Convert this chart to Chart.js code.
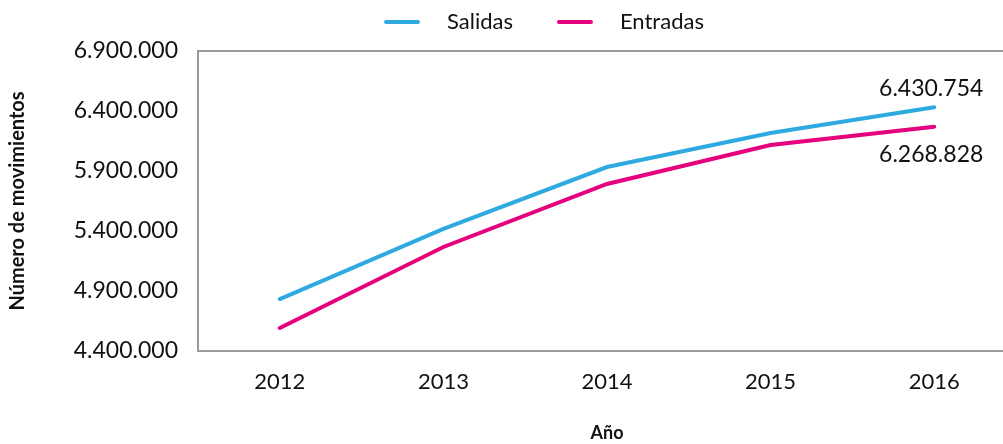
<!DOCTYPE html>
<html>
<head>
<meta charset="utf-8">
<script src="https://cdn.jsdelivr.net/npm/chart.js@4"></script>
<style>
  html, body { margin: 0; padding: 0; background: #fff; overflow: hidden; }
  #wrap { width: 1016px; height: 444px; position: relative; }
</style>
</head>
<body>
<div id="wrap"><canvas id="mChart"></canvas></div>
<script>
const years = ["2012", "2013", "2014", "2015", "2016"];
const salidas = [4833000, 5417000, 5933000, 6217000, 6430754];
const entradas = [4592000, 5267000, 5792000, 6117000, 6268828];
const yTicks = [4400000, 4900000, 5400000, 5900000, 6400000, 6900000];

const FONT = "Lato, 'DejaVu Sans', sans-serif";
const INK = "#111";

function fmt(n) {
  return String(Math.round(n)).replace(/\B(?=(\d{3})+(?!\d))/g, ".");
}

// top border of the plot box, value labels on the last point, and the legend
const extras = {
  id: "extras",
  afterDatasetsDraw(chart) {
    const { ctx, chartArea } = chart;
    ctx.save();
    ctx.strokeStyle = "#9a9a9a";
    ctx.lineWidth = 2;
    ctx.beginPath();
    ctx.moveTo(chartArea.left, chartArea.top);
    ctx.lineTo(chartArea.right, chartArea.top);
    ctx.stroke();

    ctx.fillStyle = INK;
    ctx.font = "23px " + FONT;
    ctx.textAlign = "center";
    ctx.textBaseline = "middle";
    const offs = [-19, 28];
    chart.data.datasets.forEach((ds, i) => {
      const pts = chart.getDatasetMeta(i).data;
      const last = pts[pts.length - 1];
      ctx.fillText(fmt(ds.data[ds.data.length - 1]), last.x - 3, last.y + offs[i]);
    });

    // legend: short line, then label
    let x = 386;
    const y = 22;
    ctx.font = "22px " + FONT;
    ctx.textAlign = "left";
    ctx.lineCap = "round";
    ctx.lineWidth = 4;
    chart.data.datasets.forEach((ds) => {
      ctx.strokeStyle = ds.borderColor;
      ctx.beginPath();
      ctx.moveTo(x, y);
      ctx.lineTo(x + 32, y);
      ctx.stroke();
      x += 32 + 29;
      ctx.fillText(ds.label, x, y);
      x += ctx.measureText(ds.label).width + 46;
    });
    ctx.restore();
  },
};

const ctx = document.getElementById("mChart").getContext("2d");
new Chart(ctx, {
  type: "line",
  data: {
    labels: years,
    datasets: [
      {
        label: "Salidas",
        data: salidas,
        borderColor: "#2eaae1",
        backgroundColor: "#2eaae1",
        borderWidth: 4,
        pointRadius: 0,
        borderCapStyle: "round",
        tension: 0,
      },
      {
        label: "Entradas",
        data: entradas,
        borderColor: "#e5007d",
        backgroundColor: "#e5007d",
        borderWidth: 4,
        pointRadius: 0,
        borderCapStyle: "round",
        tension: 0,
      },
    ],
  },
  options: {
    responsive: true,
    maintainAspectRatio: false,
    animation: false,
    layout: { padding: { left: 0, right: 0, top: 51, bottom: 0 } },
    plugins: {
      legend: { display: false },
      tooltip: { enabled: false },
    },
    scales: {
      x: {
        offset: true,
        afterFit: (axis) => {
          axis.height = 93;
        },
        grid: { display: false },
        border: { display: true, color: "#9a9a9a", width: 2 },
        ticks: { color: INK, padding: 10, font: { family: FONT, size: 22 } },
        title: {
          display: true,
          text: "Año",
          color: INK,
          font: { family: FONT, size: 18, weight: "bold" },
          padding: { top: 10, bottom: 0 },
        },
      },
      y: {
        min: yTicks[0],
        max: yTicks[yTicks.length - 1],
        afterBuildTicks: (axis) => {
          axis.ticks = yTicks.map((v) => ({ value: v }));
        },
        afterFit: (axis) => {
          axis.width = 198;
        },
        grid: { display: false },
        border: { display: true, color: "#9a9a9a", width: 2 },
        ticks: {
          color: INK,
          padding: 12,
          font: { family: FONT, size: 23 },
          callback: (v) => fmt(v),
        },
        title: {
          display: true,
          text: "Número de movimientos",
          color: INK,
          font: { family: FONT, size: 20, weight: "bold" },
          padding: { top: 6, bottom: 0 },
        },
      },
    },
  },
  plugins: [extras],
});
</script>
</body>
</html>
